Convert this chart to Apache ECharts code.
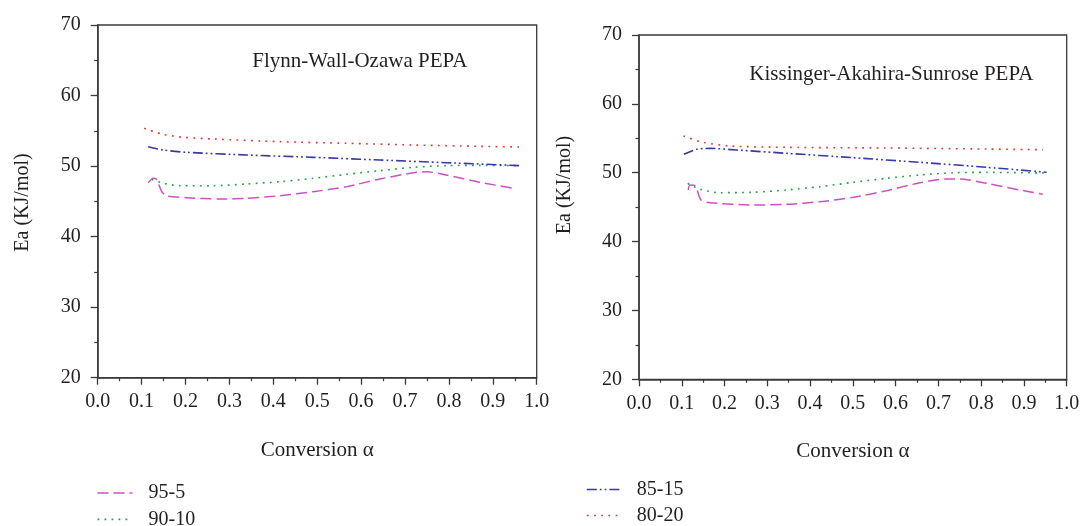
<!DOCTYPE html>
<html>
<head>
<meta charset="utf-8">
<script src="https://cdn.jsdelivr.net/npm/echarts@6/dist/echarts.min.js"></script>
<style>
  html, body { margin: 0; padding: 0; background: #fff; }
  #chart { width: 1083px; height: 526px; }
</style>
</head>
<body>
<div id="chart"></div>
<script>
// Activation energy vs conversion for PEPA blends, two isoconversional methods.
// Each series is a list of [conversion α, Ea (kJ/mol)] pairs.

const seriesNames = ['95-5', '90-10', '85-15', '80-20'];

// Flynn-Wall-Ozawa
const fwo95 = [[0.115, 47.64], [0.127, 48.27], [0.134, 48.12], [0.146, 46.37], [0.157, 45.76], [0.203, 45.52], [0.279, 45.33], [0.339, 45.43], [0.415, 45.80], [0.491, 46.37], [0.567, 47.08], [0.643, 48.17], [0.719, 49.06], [0.749, 49.20], [0.795, 48.73], [0.871, 47.70], [0.947, 46.85]];
const fwo90 = [[0.123, 48.12], [0.149, 47.56], [0.187, 47.22], [0.263, 47.22], [0.339, 47.46], [0.415, 47.79], [0.491, 48.27], [0.567, 48.83], [0.643, 49.35], [0.719, 49.83], [0.795, 50.06], [0.871, 50.10], [0.962, 50.06]];
const fwo85 = [[0.115, 52.75], [0.149, 52.28], [0.203, 51.95], [0.339, 51.57], [0.491, 51.24], [0.643, 50.86], [0.795, 50.48], [0.962, 50.06]];
const fwo80 = [[0.106, 55.35], [0.149, 54.50], [0.195, 54.08], [0.263, 53.84], [0.415, 53.46], [0.567, 53.23], [0.719, 52.99], [0.871, 52.80], [0.973, 52.70]];

// Kissinger-Akahira-Sunrose
const kas95 = [[0.115, 47.50], [0.119, 48.22], [0.131, 48.12], [0.145, 46.04], [0.166, 45.65], [0.267, 45.31], [0.345, 45.41], [0.423, 45.79], [0.501, 46.43], [0.579, 47.39], [0.657, 48.55], [0.719, 49.09], [0.750, 49.09], [0.813, 48.46], [0.891, 47.49], [0.944, 46.87]];
const kas90 = [[0.114, 48.46], [0.143, 47.59], [0.189, 47.10], [0.267, 47.16], [0.345, 47.49], [0.423, 47.97], [0.501, 48.61], [0.579, 49.19], [0.657, 49.67], [0.735, 50.00], [0.813, 50.05], [0.957, 49.96]];
const kas85 = [[0.105, 52.67], [0.135, 53.40], [0.166, 53.54], [0.228, 53.30], [0.345, 52.82], [0.501, 52.18], [0.657, 51.51], [0.813, 50.79], [0.953, 50.06]];
const kas80 = [[0.104, 55.33], [0.150, 54.41], [0.213, 53.88], [0.345, 53.69], [0.579, 53.59], [0.813, 53.44], [0.945, 53.34]];

const panelTitles = ['Flynn-Wall-Ozawa PEPA', 'Kissinger-Akahira-Sunrose PEPA'];
const xName = 'Conversion α';
const yName = 'Ea (KJ/mol)';

const FONT = '"Liberation Serif", "DejaVu Serif", serif';
const INK = '#231f20';

const styles = {
  '95-5':  { color: '#cf4fc4', type: [11, 5], width: 1.5 },
  '90-10': { color: '#1fa53c', type: [1.8, 5.2], width: 1.6 },
  '85-15': { color: '#3838a8', type: [10, 3, 1.8, 3, 1.8, 3], width: 1.6 },
  '80-20': { color: '#e33b2b', type: [1.8, 5.4], width: 1.6 }
};

const panels = [
  { data: [fwo95, fwo90, fwo85, fwo80] },
  { data: [kas95, kas90, kas85, kas80] }
];

const grids = [
  { left: 97.7, top: 25, width: 439, height: 352.7 },
  { left: 639, top: 35, width: 427.7, height: 344.3 }
];

function xAxisFor(i) {
  return {
    type: 'value', gridIndex: i, min: 0, max: 1, interval: 0.1,
    name: xName, nameLocation: 'middle', nameGap: 62,
    nameTextStyle: { fontFamily: FONT, fontSize: 21, color: INK },
    axisLine: { show: true, lineStyle: { color: '#3a3a3a', width: 1.5 } },
    axisTick: { show: true, inside: false, length: 7, lineStyle: { color: '#3a3a3a', width: 1.3 } },
    minorTick: { show: true, splitNumber: 2, length: 3.5, lineStyle: { color: '#3a3a3a', width: 1.2 } },
    splitLine: { show: false },
    axisLabel: { fontFamily: FONT, fontSize: 20, color: INK, margin: 14, formatter: v => v.toFixed(1) }
  };
}

function yAxisFor(i) {
  return {
    type: 'value', gridIndex: i, min: 20, max: 70, interval: 10,
    axisLine: { show: true, lineStyle: { color: '#3a3a3a', width: 1.5 } },
    axisTick: { show: true, inside: false, length: 7, lineStyle: { color: '#3a3a3a', width: 1.3 } },
    minorTick: { show: true, splitNumber: 2, length: 3.5, lineStyle: { color: '#3a3a3a', width: 1.2 } },
    splitLine: { show: false },
    axisLabel: { fontFamily: FONT, fontSize: 20, color: INK, margin: 17 }
  };
}

const series = [];
panels.forEach((p, pi) => {
  p.data.forEach((d, si) => {
    const name = seriesNames[si];
    const st = styles[name];
    series.push({
      type: 'line', name: name, data: d,
      xAxisIndex: pi, yAxisIndex: pi,
      showSymbol: false, symbol: 'none', smooth: 0.25,
      lineStyle: { color: st.color, type: st.type, width: st.width },
      itemStyle: { color: st.color },
      z: 3
    });
  });
});

const legendCommon = {
  orient: 'vertical', padding: 0, height: 80, width: 200,
  itemWidth: 35, itemHeight: 18,
  itemStyle: { opacity: 0, borderWidth: 0 },
  lineStyle: { width: 1.6 }
};
const legendText = { fontFamily: FONT, fontSize: 20, color: INK, lineHeight: 18 };

const option = {
  animation: false,
  backgroundColor: '#ffffff',
  grid: grids.map(g => Object.assign({ show: true, borderColor: '#3a3a3a', borderWidth: 1.3, backgroundColor: 'transparent' }, g)),
  xAxis: [xAxisFor(0), xAxisFor(1)],
  yAxis: [yAxisFor(0), yAxisFor(1)],
  legend: [
    Object.assign({
      data: ['95-5', '90-10'], left: 96.7, top: 483, itemGap: 6.4,
      textStyle: Object.assign({ padding: [0, 0, 0, 11] }, legendText)
    }, legendCommon),
    Object.assign({
      data: ['85-15', '80-20'], left: 586, top: 479.5, itemGap: 6,
      textStyle: Object.assign({ padding: [0, 0, 0, 10] }, legendText)
    }, legendCommon)
  ],
  graphic: [
    { type: 'text', left: 252.3, top: 50.5, style: { text: panelTitles[0], font: '21px ' + FONT, fill: INK } },
    { type: 'text', left: 749.3, top: 64, style: { text: panelTitles[1], font: '21px ' + FONT, fill: INK } },
    { type: 'text', x: 23, y: 202.5, rotation: Math.PI / 2,
      style: { text: yName, font: '20px ' + FONT, fill: INK, align: 'center', verticalAlign: 'middle' } },
    { type: 'text', x: 565, y: 185, rotation: Math.PI / 2,
      style: { text: yName, font: '20px ' + FONT, fill: INK, align: 'center', verticalAlign: 'middle' } }
  ],
  series: series
};

const chart = echarts.init(document.getElementById('chart'), null, { renderer: 'canvas' });
chart.setOption(option);
</script>
</body>
</html>
